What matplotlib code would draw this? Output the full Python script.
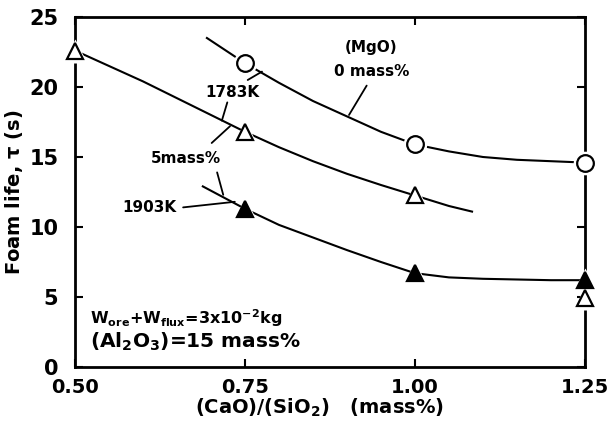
import matplotlib
matplotlib.use('Agg')
import matplotlib.pyplot as plt

plt.rcParams['font.family'] = ['DejaVu Sans']
plt.rcParams['font.weight'] = 'bold'
plt.rcParams['mathtext.fontset'] = 'custom'
plt.rcParams['mathtext.rm'] = 'DejaVu Sans:bold'
plt.rcParams['mathtext.bf'] = 'DejaVu Sans:bold'
plt.rcParams['mathtext.default'] = 'bf'

# measured points, (CaO)/(SiO2) vs foam life (s)
x_mgo0 = [0.75, 1.00, 1.25]
y_mgo0 = [21.7, 15.9, 14.6]
x_mgo5 = [0.50, 0.75, 1.00, 1.25]
y_mgo5 = [22.6, 16.8, 12.25, 4.9]
x_1903 = [0.75, 1.00, 1.25]
y_1903 = [11.3, 6.7, 6.2]

# hand drawn curves
cx_mgo0 = [0.694, 0.75, 0.80, 0.85, 0.90, 0.95, 1.00, 1.05, 1.10, 1.15, 1.20, 1.25]
cy_mgo0 = [23.5, 21.7, 20.3, 19.0, 17.9, 16.8, 15.9, 15.4, 15.0, 14.8, 14.7, 14.6]
cx_mgo5 = [0.50, 0.55, 0.60, 0.65, 0.70, 0.75, 0.80, 0.85, 0.90, 0.95, 1.00, 1.05, 1.084]
cy_mgo5 = [22.6, 21.5, 20.4, 19.2, 18.0, 16.8, 15.7, 14.7, 13.8, 13.0, 12.25, 11.5, 11.1]
cx_1903 = [0.688, 0.75, 0.80, 0.85, 0.90, 0.95, 1.00, 1.05, 1.10, 1.15, 1.20, 1.25]
cy_1903 = [12.9, 11.3, 10.15, 9.25, 8.35, 7.5, 6.7, 6.4, 6.3, 6.25, 6.2, 6.2]

fig = plt.figure(figsize=(6.08, 4.25), dpi=100)
ax = fig.add_axes([0.1234, 0.1365, 0.8386, 0.8235])

lw = 1.5
ax.plot(cx_mgo0, cy_mgo0, color='black', lw=lw, zorder=2)
ax.plot(cx_mgo5, cy_mgo5, color='black', lw=lw, zorder=2)
ax.plot(cx_1903, cy_1903, color='black', lw=lw, zorder=2)

# white halo so the curves stop short of the symbols
ax.plot(x_mgo0, y_mgo0, 'o', ms=17, mfc='white', mec='none', zorder=3, clip_on=False)
ax.plot(x_mgo5, y_mgo5, '^', ms=17, mfc='white', mec='none', zorder=3, clip_on=False)
ax.plot(x_1903, y_1903, '^', ms=17, mfc='white', mec='none', zorder=3, clip_on=False)

ax.plot(x_mgo0, y_mgo0, 'o', ms=12, mfc='white', mec='black', mew=1.6, zorder=4, clip_on=False)
ax.plot(x_mgo5, y_mgo5, '^', ms=12, mfc='white', mec='black', mew=1.6, zorder=4, clip_on=False)
ax.plot(x_1903, y_1903, '^', ms=12, mfc='black', mec='black', mew=1.6, zorder=4, clip_on=False)

ax.set_xlim(0.5, 1.25)
ax.set_ylim(0, 25)
ax.set_xticks([0.50, 0.75, 1.00, 1.25])
ax.set_xticklabels(['0.50', '0.75', '1.00', '1.25'])
ax.set_yticks([0, 5, 10, 15, 20, 25])
ax.tick_params(direction='in', length=6, width=1.5, labelsize=14, top=True, right=True)
ax.tick_params(axis='x', pad=8)
ax.tick_params(axis='y', pad=12, labelsize=15)
for s in ax.spines.values():
    s.set_linewidth(2)

ax.set_ylabel(r'Foam life, $\tau$ (s)', fontsize=14, fontweight='bold', labelpad=3)
ax.text(0.86, -2.95, r'(CaO)/(SiO$_2$)   (mass%)', fontsize=14, fontweight='bold',
        ha='center', va='center')

fs = 11
ax.text(0.936, 22.8, '(MgO)', fontsize=fs, ha='center', va='center')
ax.text(0.936, 21.1, '0 mass%', fontsize=fs, ha='center', va='center')
ax.text(0.732, 19.6, '1783K', fontsize=fs, ha='center', va='center')
ax.text(0.663, 14.9, '5mass%', fontsize=fs, ha='center', va='center')
ax.text(0.610, 11.36, '1903K', fontsize=fs, ha='center', va='center')

leader = dict(arrowstyle='-', color='black', lw=1.3, shrinkA=0, shrinkB=0)
ax.annotate('', xy=(0.903, 18.0), xytext=(0.929, 20.1), arrowprops=leader)
ax.annotate('', xy=(0.775, 21.1), xytext=(0.754, 20.5), arrowprops=leader)
ax.annotate('', xy=(0.716, 17.6), xytext=(0.724, 18.9), arrowprops=leader)
ax.annotate('', xy=(0.728, 17.2), xytext=(0.701, 16.0), arrowprops=leader)
ax.annotate('', xy=(0.718, 12.3), xytext=(0.709, 13.9), arrowprops=leader)
ax.annotate('', xy=(0.735, 11.8), xytext=(0.659, 11.4), arrowprops=leader)

ax.text(0.522, 3.5, r'W$_{ore}$+W$_{flux}$=3x10$^{-2}$kg', fontsize=11.5, ha='left', va='center')
ax.text(0.522, 1.8, r'(Al$_2$O$_3$)=15 mass%', fontsize=14.5, ha='left', va='center')

fig.savefig('out.png', dpi=100)
